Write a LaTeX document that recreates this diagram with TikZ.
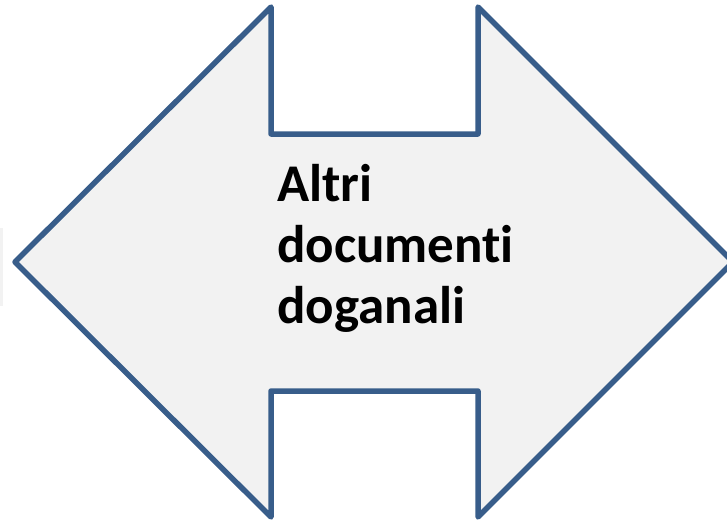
\documentclass[tikz,border=0pt]{standalone}
\usepackage{fontspec}
\setmainfont{Carlito}[Ligatures = NoCommon]
\usetikzlibrary{positioning}

\definecolor{arrowBlue}{RGB}{56,93,138}
\definecolor{arrowFill}{RGB}{242,242,242}

\tikzset{
  bigArrow/.style = {draw = arrowBlue, fill = arrowFill, line width = 5.5pt, line join = round},
  arrowText/.style = {font = \bfseries\fontsize{53}{61}\selectfont, align = left, inner sep = 0pt}
}

\begin{document}
\begin{tikzpicture}[x = 1pt, y = -1pt]
    \useasboundingbox (0, 0) rectangle (727, 520);

    \fill[arrowFill] (0, 228) rectangle (3, 306);

    \coordinate (tipL) at (15, 262);
    \coordinate (tipR) at (733, 262);
    \coordinate (headLT) at (271, 7);
    \coordinate (headLB) at (271, 517);
    \coordinate (headRT) at (478, 7);
    \coordinate (headRB) at (478, 517);
    \coordinate (shaftLT) at (271, 134);
    \coordinate (shaftRT) at (478, 134);
    \coordinate (shaftLB) at (271, 391);
    \coordinate (shaftRB) at (478, 391);

    \draw[bigArrow] (tipL) -- (headLT) -- (shaftLT) -- (shaftRT) -- (headRT)
      -- (tipR) -- (headRB) -- (shaftRB) -- (shaftLB) -- (headLB) -- cycle;

    \node[arrowText, anchor = base west] (docs) at (277, 323) {Altri\\documenti\\doganali};
  \end{tikzpicture}
\end{document}
